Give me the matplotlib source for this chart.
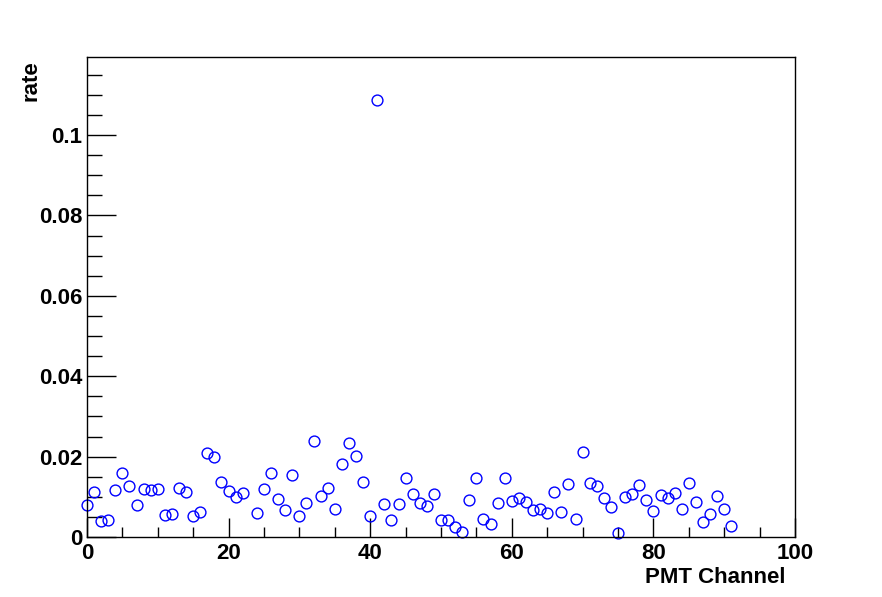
import numpy as np
import matplotlib
matplotlib.use('Agg')
import matplotlib.pyplot as plt
from matplotlib.ticker import MultipleLocator

# rate per PMT channel (channel 23 has no entry)
channel = np.arange(92)
rate = [0.0080, 0.0111, 0.0039, 0.0042, 0.0117, 0.0160, 0.0128, 0.0080, 0.0120, 0.0117,
        0.0119, 0.0055, 0.0057, 0.0121, 0.0113, 0.0051, 0.0061, 0.0208, 0.0200, 0.0137,
        0.0115, 0.0099, 0.0109, np.nan, 0.0059, 0.0119, 0.0158, 0.0094, 0.0067, 0.0153,
        0.0051, 0.0085, 0.0239, 0.0102, 0.0122, 0.0070, 0.0182, 0.0233, 0.0202, 0.0137,
        0.0051, 0.1087, 0.0082, 0.0042, 0.0083, 0.0148, 0.0106, 0.0085, 0.0078, 0.0108,
        0.0043, 0.0042, 0.0024, 0.0013, 0.0093, 0.0148, 0.0046, 0.0033, 0.0085, 0.0148,
        0.0090, 0.0097, 0.0086, 0.0066, 0.0070, 0.0059, 0.0112, 0.0061, 0.0132, 0.0046,
        0.0211, 0.0134, 0.0128, 0.0098, 0.0075, 0.0009, 0.0100, 0.0107, 0.0129, 0.0092,
        0.0064, 0.0104, 0.0096, 0.0109, 0.0070, 0.0135, 0.0087, 0.0037, 0.0056, 0.0102,
        0.0069, 0.0027]
xticks = [0, 20, 40, 60, 80, 100]
xticklabels = ['0', '20', '40', '60', '80', '100']
yticks = [0, 0.02, 0.04, 0.06, 0.08, 0.1]
yticklabels = ['0', '0.02', '0.04', '0.06', '0.08', '0.1']

plt.rcParams['font.family'] = ['Liberation Sans', 'DejaVu Sans']
plt.rcParams['font.weight'] = 'bold'

fig = plt.figure(figsize=(8.82, 5.97), dpi=100)
ax = fig.add_axes([0.0986, 0.1005, 0.8028, 0.804])

ax.plot(channel, rate, 'o', mfc='none', mec='#0000ff', ms=7.8, mew=1.0, clip_on=False)

ax.set_xlim(0, 100)
ax.set_ylim(0, 0.1194)
ax.set_xticks(xticks)
ax.set_xticklabels(xticklabels)
ax.set_yticks(yticks)
ax.set_yticklabels(yticklabels)
ax.xaxis.set_minor_locator(MultipleLocator(5))
ax.yaxis.set_minor_locator(MultipleLocator(0.005))

ax.tick_params(axis='x', which='major', direction='in', length=14, width=1, labelsize=16, pad=4)
ax.tick_params(axis='x', which='minor', direction='in', length=7, width=1)
ax.tick_params(axis='y', which='major', direction='in', length=21, width=1, labelsize=16, pad=3.5)
ax.tick_params(axis='y', which='minor', direction='in', length=10.5, width=1)
for lab in ax.get_xticklabels() + ax.get_yticklabels():
    lab.set_fontweight('bold')
for sp in ax.spines.values():
    sp.set_linewidth(1)

ax.set_xlabel('PMT Channel', fontsize=16, fontweight='bold', ha='right', va='top')
ax.xaxis.set_label_coords(0.986, -0.063)
ax.set_ylabel('rate', fontsize=16, fontweight='bold', ha='right', va='bottom')
ax.yaxis.set_label_coords(-0.064, 0.994)

fig.savefig('out.png', dpi=100)
